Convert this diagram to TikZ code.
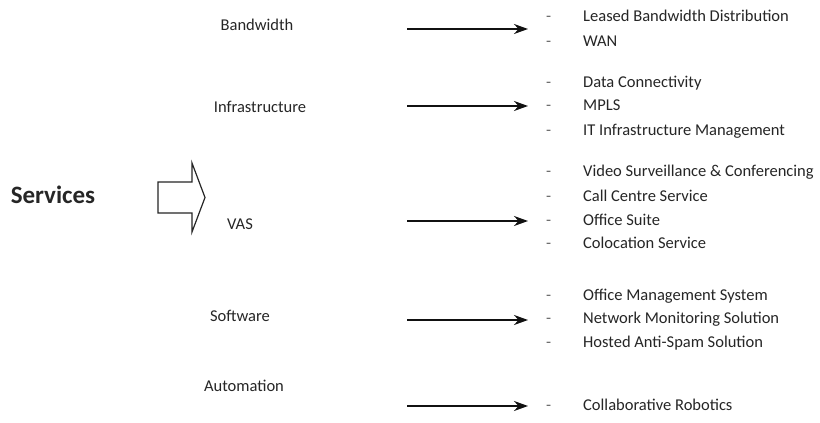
\documentclass[tikz,border=0pt]{standalone}
\usepackage{fontspec}
\setmainfont{Carlito}
\usepackage{tikz}
\usetikzlibrary{arrows.meta,positioning}
\definecolor{txtgray}{HTML}{262626}
\definecolor{lnblack}{HTML}{111111}
\tikzset{
    cat/.style={font=\fontsize{16.5}{18}\selectfont, text=txtgray, inner sep=0pt},
    item/.style={anchor=west, font=\fontsize{16.5}{18}\selectfont, text=txtgray,
        inner sep=0pt, text height=11pt, text depth=3pt},
    itemdash/.style={item, text=txtgray!70},
    arrow/.style={-{Stealth[length=14pt,width=10pt]}, line width=2pt, draw=lnblack},
    blockarrow/.style={draw=txtgray, line width=1.2pt, line join=miter}
}
\begin{document}
\begin{tikzpicture}[x=1pt,y=-1pt]
    \useasboundingbox[fill=white] (0,0) rectangle (820,423);
    % left side
    \node[font=\fontsize{25}{28}\selectfont\bfseries, text=txtgray, anchor=base, inner sep=0pt] (services) at (53,203) {Services};
    \draw[blockarrow] (158,182) -- (192,182) -- (192,163) -- (205,197.5)
        -- (192,232) -- (192,213) -- (158,213) -- cycle;
    % categories
    \node[cat] (bandwidth) at (257,25) {Bandwidth};
    \node[cat] (infra) at (260,107) {Infrastructure};
    \node[cat] (vas) at (240,224) {VAS};
    \node[cat] (software) at (240,316) {Software};
    \node[cat] (automation) at (244,386) {Automation};
    % arrows
    \coordinate (bw-a) at (407,29);   \coordinate (bw-b) at (528,29);
    \coordinate (in-a) at (407,106);  \coordinate (in-b) at (528,106);
    \coordinate (vas-a) at (407,221); \coordinate (vas-b) at (528,221);
    \coordinate (sw-a) at (407,320);  \coordinate (sw-b) at (528,320);
    \coordinate (au-a) at (407,406);  \coordinate (au-b) at (528,406);
    \draw[arrow] (bw-a) -- (bw-b);
    \draw[arrow] (in-a) -- (in-b);
    \draw[arrow] (vas-a) -- (vas-b);
    \draw[arrow] (sw-a) -- (sw-b);
    \draw[arrow] (au-a) -- (au-b);
    % item lists
    \foreach \y/\txt [count=\i] in {17/Leased Bandwidth Distribution, 42/WAN,
        83/Data Connectivity, 106/MPLS, 131/IT Infrastructure Management,
        172/Video Surveillance \& Conferencing, 197/Call Centre Service,
        221/Office Suite, 244/Colocation Service,
        296/Office Management System, 319/Network Monitoring Solution,
        343/Hosted Anti-Spam Solution, 406/Collaborative Robotics}
    {
        \node[itemdash] (dash-\i) at (546,\y) {-};
        \node[item] (item-\i) at (583,\y) {\txt};
    }
\end{tikzpicture}
\end{document}
